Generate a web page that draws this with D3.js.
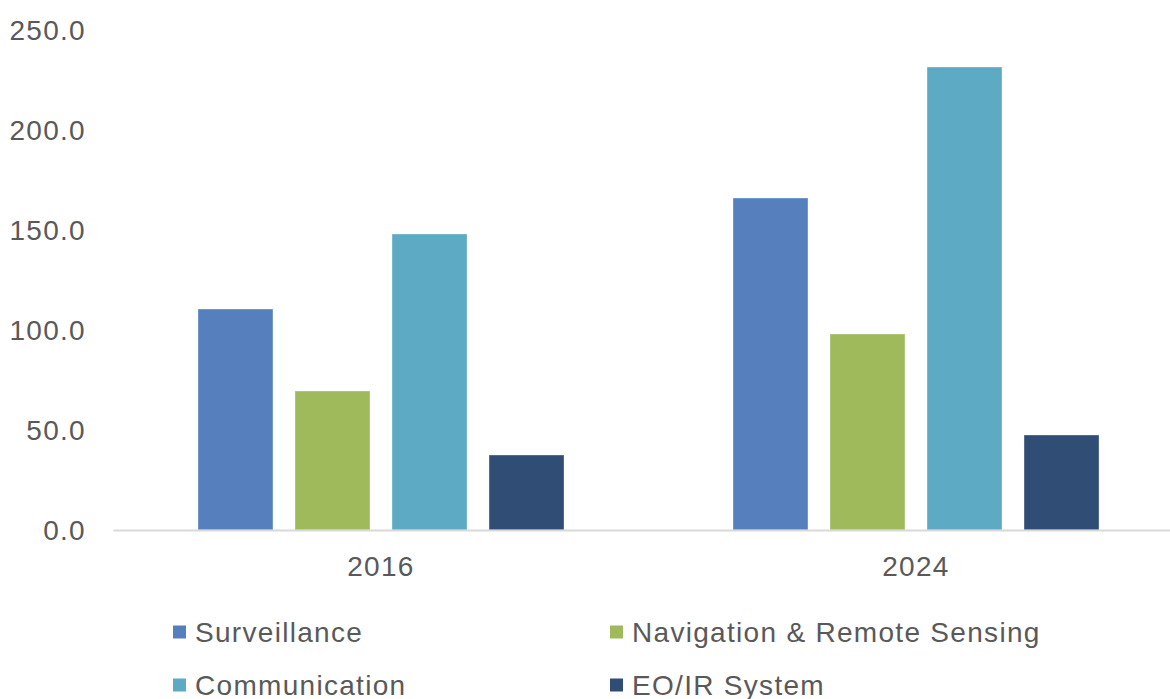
<!DOCTYPE html>
<html>
<head>
<meta charset="utf-8">
<script src="https://cdn.jsdelivr.net/npm/d3@7"></script>
<style>
  body { margin:0; background:#fff; }
  text { font-family:"Liberation Sans", Arial, sans-serif; fill:#595959; letter-spacing:1.3px; }
</style>
</head>
<body>
<svg id="svg" width="1170" height="699"></svg>
<script>
	// data
	var years = ["2016", "2024"];
	var seriesNames = ["Surveillance", "Navigation & Remote Sensing", "Communication", "EO/IR System"];
	var surveillance = [110.5, 166];
	var navigation = [69.5, 98];
	var communication = [148, 231.5];
	var eoir = [37.5, 47.5];
	var yTicks = [0, 50, 100, 150, 200, 250];

	var colors = ["#5680bd", "#9fba5a", "#5caac4", "#304d76"];
	var seriesValues = [surveillance, navigation, communication, eoir];

	var svg = d3.select("#svg");

	var margin = {left:113.5, right:-13.5, top:30, bottom:169};
	var width  = +svg.attr("width") - margin.left - margin.right;   // 1070
	var height = +svg.attr("height") - margin.top - margin.bottom;  // 500

	let x = d3.scaleBand().domain(years).range([margin.left, margin.left + width]);
	let xInner = d3.scaleBand().domain(seriesNames).range([0, x.bandwidth()])
		.paddingInner(0.227).paddingOuter(0.871);
	let y = d3.scaleLinear().domain([0, 250]).range([margin.top + height, margin.top]);

	// y tick labels (no axis line, no gridlines)
	svg.append('g')
		.selectAll('text')
		.data(yTicks)
		.enter().append('text')
		.attr('x', 86)
		.attr('y', d=>y(d))
		.attr('dy', '0.35em')
		.attr('text-anchor', 'end')
		.style('font-size', '28px')
		.text(d=>d3.format('.1f')(d));

	// bars
	let rows = [];
	seriesNames.forEach((s, i) => {
		years.forEach((yr, j) => rows.push({year:yr, series:s, value:seriesValues[i][j], color:colors[i]}));
	});

	svg.append('g')
		.selectAll('rect')
		.data(rows)
		.enter().append('rect')
		.attr('x', d=>x(d.year) + xInner(d.series))
		.attr('y', d=>y(d.value))
		.attr('width', xInner.bandwidth())
		.attr('height', d=>y(0) - y(d.value))
		.style('fill', d=>d.color)
		.style('stroke', d3.color('#ffffff').copy({opacity:0.35}))
		.style('stroke-width', 1);

	// category axis line
	svg.append('line')
		.attr('x1', margin.left)
		.attr('x2', 1170)
		.attr('y1', y(0) + 0.5)
		.attr('y2', y(0) + 0.5)
		.style('stroke', '#d9d9d9')
		.style('stroke-width', 2);

	svg.append('g')
		.selectAll('text')
		.data(years)
		.enter().append('text')
		.attr('x', d=>x(d) + x.bandwidth()/2)
		.attr('y', 576)
		.attr('text-anchor', 'middle')
		.style('font-size', '28px')
		.text(d=>d);

	// legend, two columns
	let legend = svg.append('g');
	let legX = [173, 610];
	let legY = [632, 685];
	let items = legend.selectAll('g')
		.data(seriesNames)
		.enter().append('g')
		.attr('transform', (d, i) => "translate(" + legX[i % 2] + "," + legY[Math.floor(i / 2)] + ")");
	items.append('rect')
		.attr('x', 0)
		.attr('y', -6.5)
		.attr('width', 13)
		.attr('height', 13)
		.style('fill', (d, i) => colors[i]);
	items.append('text')
		.attr('x', 22)
		.attr('y', 0)
		.attr('dy', '0.35em')
		.style('font-size', '28px')
		.text(d=>d);
</script>
</body>
</html>
